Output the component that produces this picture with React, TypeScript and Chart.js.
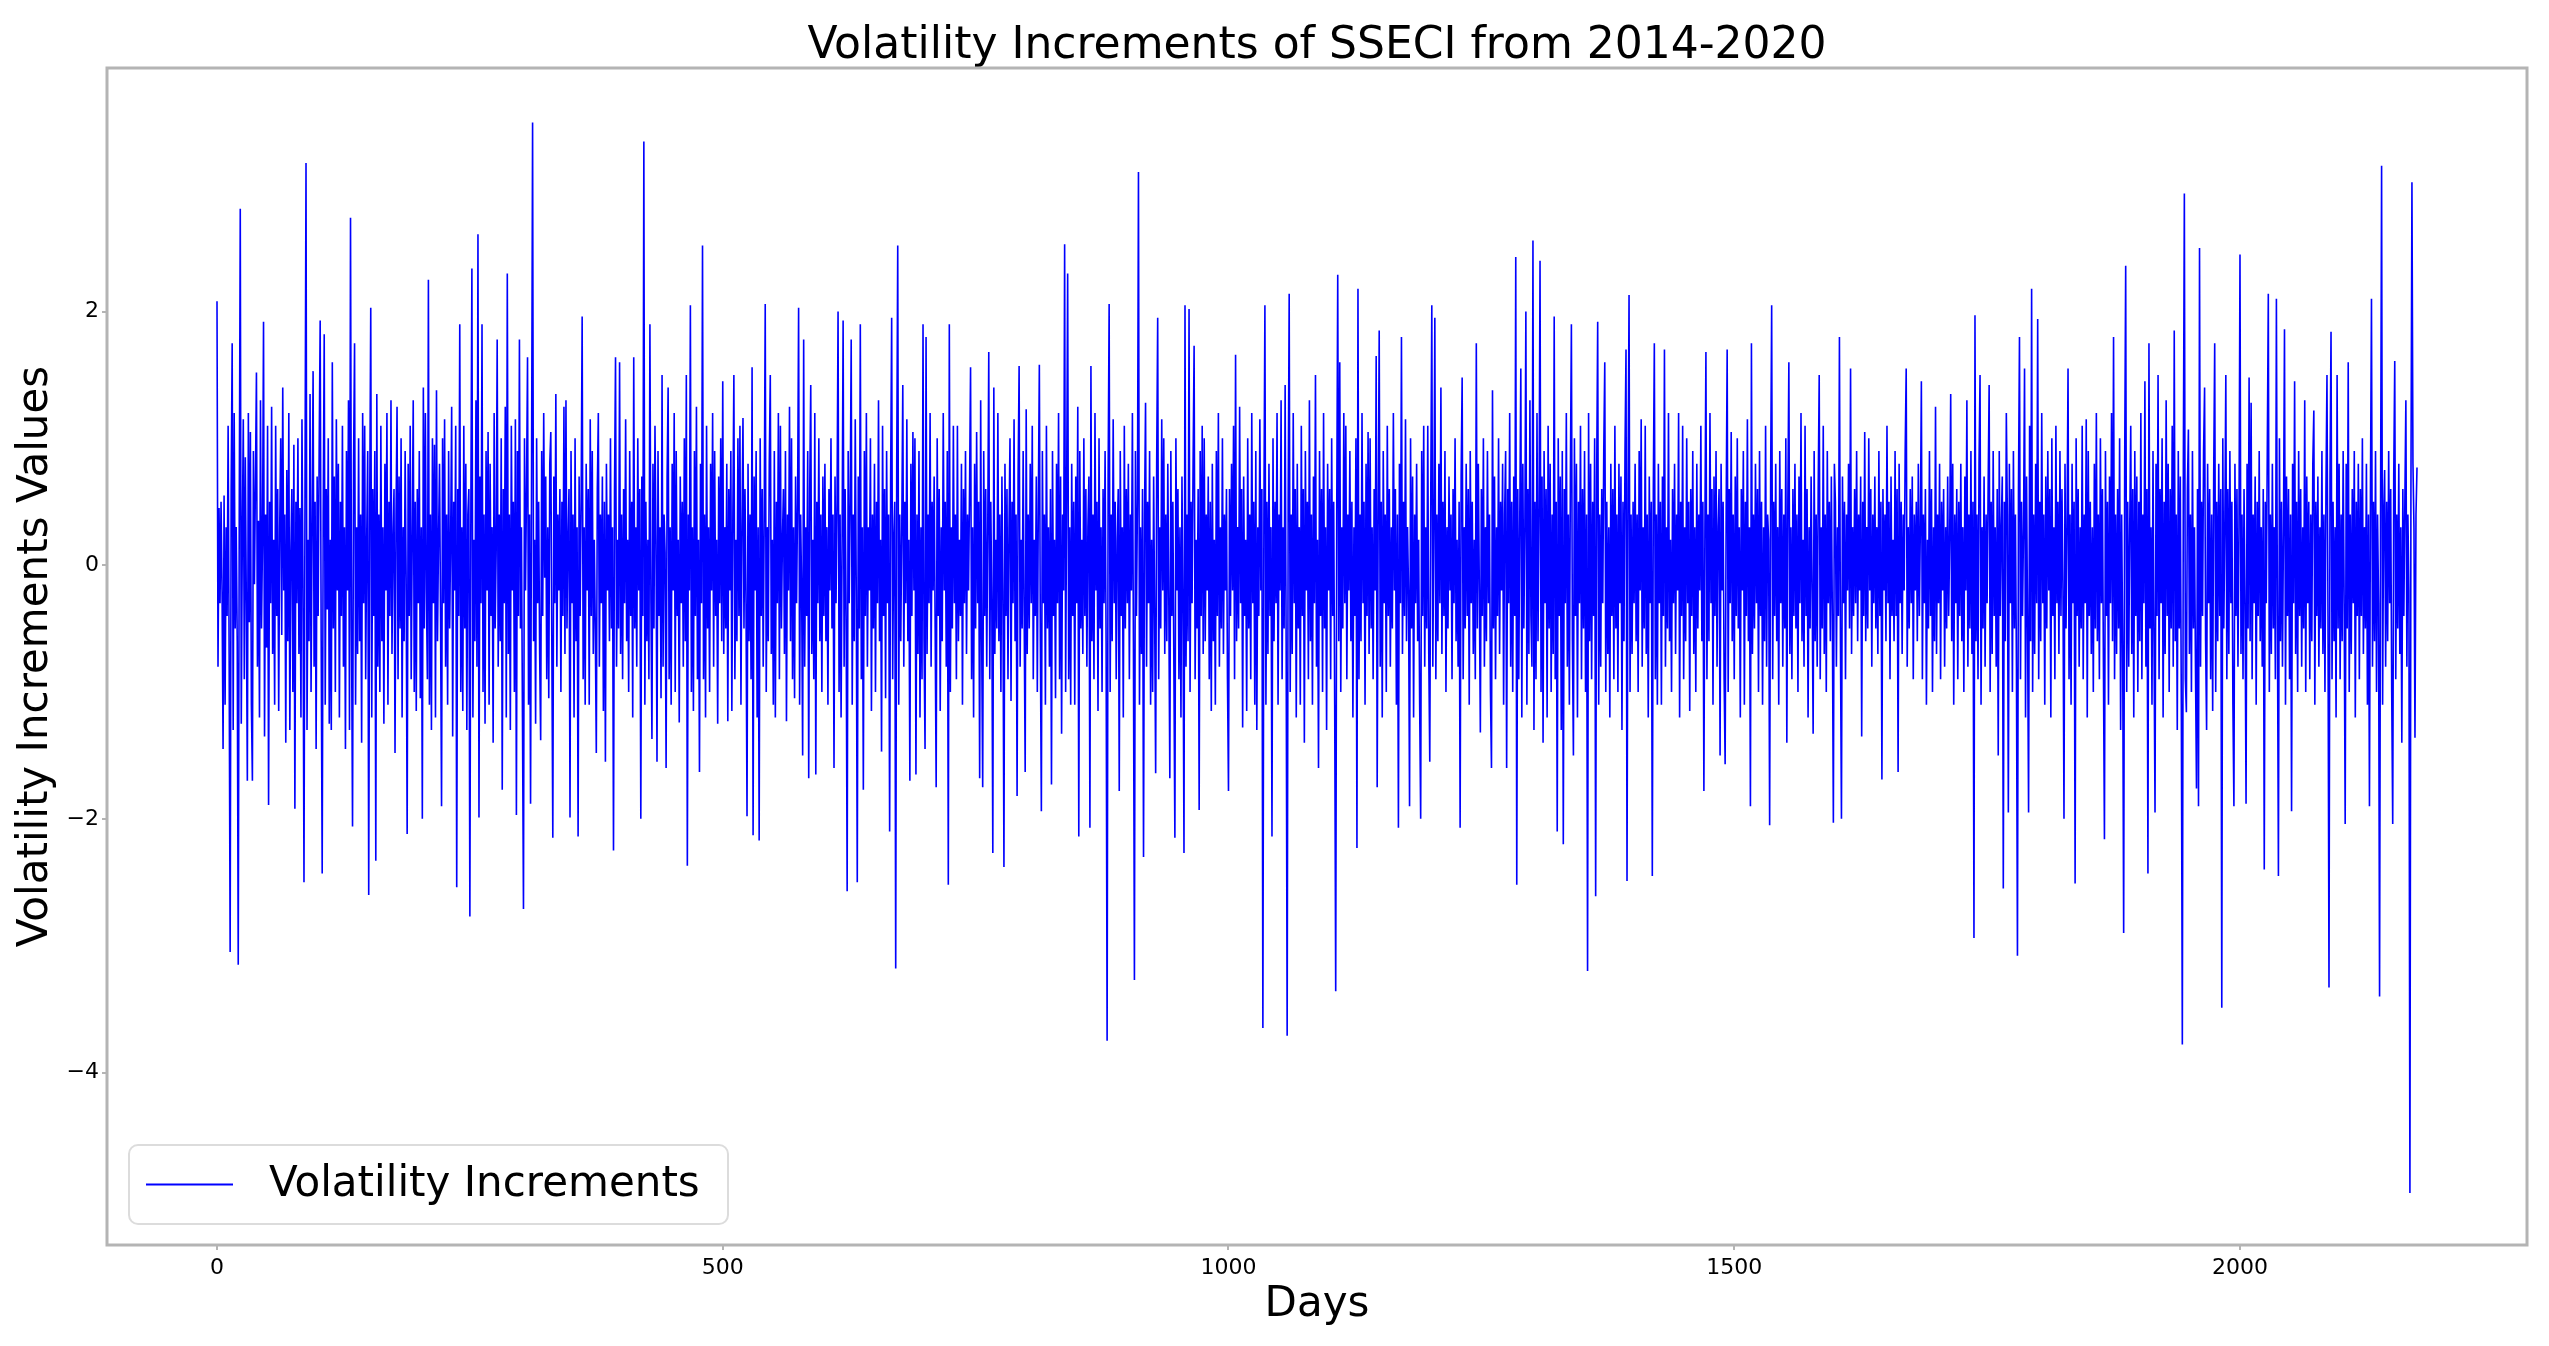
import React, { useEffect, useRef } from 'react';
import { Chart, registerables } from 'chart.js';

Chart.register(...registerables);

// Daily volatility increments (days 0-2175)
const d0000 = [
  2.08, -0.8, 0.45, -0.3, 0.5, -0.2, -1.45, 0.55, -1.1, 0.3, -0.4, 1.1, -0.7, -3.05, 0.6, 1.75, -1.3, 1.2, -0.5, 0.3,
  -0.6, -3.15, 0.4, 2.81, -1.25, 0.2, 1.15, -0.9, 0.85, -0.3, -1.7, 1.2, -0.45, 1.05, -1.1, -1.7, 0.9, -0.15, 0.65, 1.52,
  -0.8, 0.35, -1.2, 1.3, -0.5, 0.2, 1.92, -1.35, 0.4, -0.65, 1.1, -1.89, 0.5, -0.3, 1.25, -0.7, 0.2, -1.1, 1.1, -0.4,
  0.6, -1.15, 0.3, 1.0, -0.55, 1.4, -0.2, 0.4, -1.4, 0.75, -0.6, 1.2, -1.3, 0.1, 0.6, -1.0, 0.95, -1.92, 0.5, -0.3,
  1.0, -0.7, 0.45, -1.2, 1.15, -0.1, -2.5, 0.6, 3.17, -1.3, 0.2, -0.6, 1.35, -1.0, 0.3, 1.53, -0.8, 0.5, -1.45, 0.7,
  -0.4, 0.9, 1.93, -0.6, -2.43, 0.4, 1.82, -1.1, 0.6, -0.35, 1.0, -1.25, 0.2, -1.3, 1.6, -0.5, 0.7, -1.0, 1.15, -0.2,
  0.8, -1.2, 0.5, -0.4, 1.1, -0.8, 0.3, -1.45, 0.9, -0.2, 1.3, -1.3, 2.74, -0.5, -2.06, 0.8, 1.75, -1.1, 0.3, -0.7,
  1.0, -0.6, 0.4, -1.4, 1.2, -0.3, 1.1, -0.9, 0.2, 0.9, -2.6, 0.5, 2.03, -1.2, 0.6, -0.4, 0.9, -2.33, 1.35, -0.8,
  0.4, -1.0, 1.1, -0.6, 0.3, -1.25, 0.8, -0.2, 1.2, -1.1, 0.5, -0.4, 1.3, -0.7, 0.2, 0.6, -1.48, 0.4, 1.25, -0.9,
  0.7, -0.5, 1.0, -1.2, 0.3, -0.6, 0.9, -0.1, -2.12, 0.8, -0.4, 1.1, -0.9, 0.2, 1.3, -1.0, 0.5, -1.15, 0.6, -0.3,
];
const d0200 = [
  0.9, -1.05, 0.3, -2.0, 1.4, -0.5, 1.2, -0.2, -0.9, 2.25, -1.1, 0.4, -1.3, 1.0, -0.3, 0.95, -1.2, 1.38, -0.6, 0.2,
  0.8, -0.4, -1.9, 1.0, -0.3, 1.15, -0.8, 0.4, -1.1, 0.9, -0.5, 0.2, 1.25, -1.35, 0.5, -0.2, 1.1, -2.54, 0.6, -0.4,
  1.9, -1.0, 0.3, -1.15, 1.1, -0.5, 0.8, -1.3, 0.4, 0.6, -2.77, 0.5, 2.34, -1.2, 0.2, -0.6, 1.3, -0.8, 2.61, -1.99,
  0.7, -0.3, 1.9, -1.0, 0.4, -1.25, 0.9, -0.2, 1.05, -1.1, 0.8, -0.4, 0.3, -1.4, 1.2, -0.5, 0.1, 1.78, -0.8, 0.4,
  -0.6, 1.0, -1.77, 0.6, -0.3, 1.25, -1.2, 2.3, -0.7, 0.4, -1.3, 1.1, -0.2, 0.5, -1.0, 1.15, -1.97, 0.9, -0.4, 1.78,
  -0.5, 0.3, -1.2, -2.71, 1.0, -0.2, 0.6, 1.64, -1.1, 0.4, -1.88, 0.8, 3.49, -0.6, 0.2, -1.25, 1.0, -0.3, 0.5, -0.7,
  -1.38, 0.9, -0.4, 1.2, -0.1, 0.7, -0.9, 0.3, -1.05, 0.8, 1.05, -0.6, -2.15, 0.7, -0.3, 1.35, -0.8, 0.4, -0.2, 0.6,
  -1.0, 0.5, -0.4, 1.25, -0.7, 1.3, -0.5, 0.2, 0.6, -1.99, 0.9, -0.3, 0.4, -1.2, 1.0, -0.6, 0.3, -2.14, 0.7, -0.4,
  0.5, 1.96, -0.9, 0.3, -1.1, 0.8, -0.2, 0.6, -1.1, 1.15, -0.4, 0.9, -0.7, 0.2, -0.5, -1.48, 0.6, 1.2, -0.8, 0.4,
  -0.3, 0.7, -1.15, 0.5, -1.55, 0.8, -0.2, 0.4, -0.6, 1.0, -0.5, 0.3, -2.25, 0.6, 1.64, -0.8, 0.2, -0.5, 1.6, -0.7,
];
const d0400 = [
  0.4, -0.9, 0.6, -0.3, 1.15, -0.6, 0.2, -1.0, 0.9, -0.4, 0.5, -1.2, 1.64, -0.5, 0.3, -0.8, 1.0, -0.2, 0.6, -2.0,
  0.7, -0.4, 3.34, -1.1, 0.5, -0.6, 0.2, -0.9, 1.9, -0.3, -1.37, 0.8, -0.5, 1.1, 0.2, -1.55, 0.9, -0.4, 0.3, -1.05,
  1.5, -0.8, 0.4, 0.1, -1.6, 0.7, 1.4, -0.9, 0.3, -1.1, 0.8, -0.2, 1.2, -1.0, 0.9, -0.4, 0.2, -1.24, 0.7, -0.3,
  0.5, -0.8, 1.0, -0.6, 1.5, -2.37, 0.4, -0.2, 2.05, -1.0, 0.3, -1.15, 0.9, -0.4, 1.25, -0.9, 0.2, -1.63, 0.8, -0.3,
  2.52, -0.9, 0.4, -1.2, 1.1, -0.5, 0.3, -1.0, 0.8, -0.2, 1.2, -0.8, 0.9, -0.4, 0.2, -1.25, 0.7, -0.3, 1.0, -0.6,
  1.45, -0.7, 0.3, -0.5, 0.8, -1.23, 0.6, -0.2, 0.9, -1.15, 0.4, 1.5, -0.9, 0.2, -0.6, 1.0, -0.4, 1.1, -1.1, 0.3,
  1.16, -0.5, 0.6, -0.3, -1.98, 0.8, -0.6, 0.4, -0.9, 1.56, -2.13, 0.7, -0.2, 0.9, -1.2, 0.3, -2.17, 1.0, -0.4, 0.6,
  -0.8, 0.4, 2.06, -1.0, 0.3, -0.6, 0.8, 1.5, -0.7, 0.2, -1.1, 0.9, -1.2, 0.5, -0.3, 1.2, -0.9, 1.1, -0.5, 0.2,
  0.6, -0.7, 0.9, -1.23, 0.4, -0.2, 1.25, -0.6, 1.0, -0.9, 0.3, -1.05, 0.7, -0.3, 0.5, 2.03, -1.1, 0.4, -0.2, -1.5,
  1.78, -0.8, 0.3, -0.4, 0.9, -1.68, 0.6, 1.42, -0.7, 0.2, -0.9, 1.2, -1.65, 0.5, -0.3, 1.0, -0.6, 0.4, -1.0, 0.7,
];
const d0600 = [
  -0.4, 0.8, -0.6, 0.3, -1.1, 0.6, -0.2, 1.0, -0.5, 0.4, -1.6, 0.7, -0.3, 0.5, 2.0, -1.0, 0.4, -1.2, 0.2, 1.93,
  -0.8, 0.6, -0.4, -2.57, 0.9, -0.3, 0.5, 1.78, -1.1, 0.4, -0.6, 1.15, -0.2, -2.5, 0.7, -0.5, 1.9, -0.9, 0.3, -1.77,
  0.9, -0.4, 1.2, -0.8, 0.3, -0.2, 1.0, -1.15, 0.4, -0.5, 0.8, -1.0, 0.5, -0.3, 1.3, -0.6, 0.2, -1.47, 1.1, -0.4,
  0.6, -1.05, 0.9, -0.3, 0.4, -2.1, 0.7, 1.95, -0.9, 0.2, 0.5, -3.18, 0.8, 2.52, -1.1, 0.4, -0.6, 0.3, 1.42, -0.8,
  0.5, -0.3, 1.15, -0.6, 0.2, -1.7, 0.8, -0.4, 1.05, -0.2, 1.0, -1.65, 0.4, -0.7, 0.9, -1.2, 0.3, -0.9, 1.9, -0.6,
  -1.45, 1.8, -0.7, 0.4, -0.3, 1.2, -0.8, 0.5, -0.2, 0.7, -0.5, -1.75, 1.0, -0.4, 0.6, -1.15, 0.3, -0.6, 1.2, -0.2,
  0.5, -0.8, 0.9, -2.52, 1.9, -1.0, 0.3, -0.5, 1.1, -0.3, 0.4, -0.9, 1.1, -0.6, 0.2, -0.4, 0.8, -1.1, 0.6, -0.3,
  0.9, -0.7, 0.4, -0.2, 0.6, 1.56, -0.9, 0.3, -1.2, 0.8, -0.5, 1.05, -0.3, 0.5, -1.68, 1.3, -0.6, -1.75, 0.9, -0.4,
  0.6, -0.8, 0.3, 1.68, -0.9, 0.5, -0.3, -2.27, 1.4, -0.7, 0.2, -0.5, 1.2, -0.6, 0.4, -1.0, 0.7, -0.2, -2.38, 0.8,
  -0.4, 0.6, -0.9, 0.3, 1.0, -1.07, 0.5, -0.3, 1.15, -0.6, 0.4, -1.82, 0.7, 1.57, -0.8, 0.2, -0.5, 0.9, -0.4, -1.63,
];
const d0800 = [
  1.23, -0.7, 0.4, -0.5, 0.8, -0.3, 1.1, -0.9, 0.2, -0.4, 0.7, -1.0, 0.5, 1.58, -0.6, -1.94, 0.9, -0.3, 0.4, -1.1,
  1.1, -0.5, 0.3, -0.8, 0.6, -1.73, 0.9, -0.4, 0.2, -1.05, 0.8, -0.3, 1.2, -0.9, 0.7, -1.33, 0.4, -0.2, 2.53, -1.0,
  0.6, 2.3, -0.9, 0.3, -1.1, 0.8, -0.4, 0.5, -1.1, 0.7, -0.3, 1.25, -2.14, 0.9, -0.5, 0.2, -0.7, 1.0, -0.4, 0.6,
  -0.8, 0.3, 0.7, -2.07, 1.57, -0.6, 0.4, -0.9, 1.2, -0.2, 0.5, -1.15, 1.0, -0.5, 0.3, -1.0, 0.6, -0.3, 0.9, -0.6,
  -3.75, 0.7, 2.06, -1.0, 0.4, -0.6, 1.15, -0.3, 0.5, -0.9, 0.2, 0.6, -1.78, 0.9, -0.4, 0.3, -1.2, 1.1, -0.5, 0.6,
  -0.3, 0.8, -0.9, 0.4, -0.2, 1.2, -0.6, -3.27, 0.9, -0.4, 0.5, 3.1, -1.1, 0.3, -0.7, 0.6, -2.3, 0.4, 1.28, -0.8,
  0.5, -0.3, 0.9, -1.1, 0.2, -1.0, 0.7, -0.4, -1.64, 0.8, 1.95, -0.9, 0.3, -0.5, 1.15, -0.2, 1.0, -0.7, 0.4, -0.6,
  0.8, -0.3, -1.68, 0.9, -0.4, 0.5, -0.8, -2.15, 1.0, -0.2, 0.6, -0.9, 0.3, -1.2, 0.7, -0.3, -2.27, 2.05, -0.8, 0.4,
  -0.6, 2.02, -1.0, 0.5, -0.3, 0.8, 1.73, -0.9, 0.2, -0.5, 0.6, -1.93, 0.9, -0.4, 1.1, -0.7, 1.0, -0.6, 0.4, -0.2,
  0.7, -0.9, 0.5, -1.15, 0.8, -0.6, 0.2, -1.1, 0.9, -0.4, 1.2, -0.8, 0.3, -0.5, 1.0, -0.7, 0.4, -0.2, 0.6, -0.9,
];
const d1000 = [
  -1.78, 0.6, -0.4, 0.8, -0.2, 1.1, -0.9, 1.66, -0.6, 0.3, -0.5, 1.25, -0.3, 0.6, -1.28, 0.7, -0.4, 0.2, -1.15, 1.0,
  -0.5, 0.4, -0.9, 1.2, -0.3, 0.5, -1.1, 0.9, -1.3, 0.3, -0.4, 1.15, -0.2, 0.6, -3.65, 0.4, 2.05, -1.1, 0.5, -0.7,
  0.8, -0.4, 0.3, -2.14, 1.0, -0.6, 0.5, -0.3, 1.2, -1.1, 0.4, -0.2, 1.3, -0.9, 0.3, -0.5, 1.42, -0.6, -3.71, 0.5,
  2.14, -1.0, 0.4, -0.7, 1.2, -0.3, 0.6, -1.2, 0.8, -0.5, 0.3, -1.1, 1.1, -0.4, 0.6, -1.4, 0.9, -0.2, 0.5, -0.9,
  1.3, -0.6, 0.4, -1.1, 0.7, -0.3, 1.5, -0.8, 0.2, -1.6, 0.9, -0.4, 0.6, -1.0, 1.2, -0.5, 0.3, -1.3, 0.8, -0.2,
  0.6, -0.9, 1.0, -0.4, 0.5, -1.1, -3.36, 0.4, 2.29, -0.6, 1.6, -1.0, 0.3, -0.5, 1.2, -0.3, 1.1, -0.9, 0.4, -0.2,
  0.9, -0.6, 0.5, -1.2, 0.3, -0.4, 1.0, -2.23, 2.18, -0.9, 0.4, -0.6, 1.2, -0.3, 0.5, -1.1, 0.8, -0.4, 1.05, -0.7,
  1.0, -0.5, 0.3, -0.9, 0.6, -0.2, 1.65, -1.75, 0.4, 1.85, -0.8, 0.5, -1.2, 0.9, -0.3, 0.4, -1.0, 1.1, -0.4, 0.6,
  -0.8, 0.3, -0.5, 1.2, -0.2, 0.6, -1.1, 0.4, -2.07, 0.8, -0.3, 1.8, -0.7, 0.5, -0.4, 1.15, -0.6, 0.3, -0.2, -1.9,
  1.0, -0.5, 0.7, -1.2, 0.4, -0.3, 0.8, -0.6, 0.2, -1.1, -2.0, 0.9, -0.4, 1.1, -0.8, 0.3, -0.5, 1.1, -0.7, -1.55,
];
const d1200 = [
  0.6, 2.05, -0.8, 0.3, 1.95, -0.9, 0.4, -0.6, 0.8, -0.3, 1.4, -0.7, 0.5, -0.4, 0.9, -1.0, 0.3, -0.5, 0.7, -0.2,
  0.4, -0.9, 0.6, -0.3, 1.0, -0.6, 0.2, -0.8, 0.5, -2.07, 0.7, 1.48, -0.9, 0.3, -0.5, 0.8, -0.4, 0.6, -1.1, 0.9,
  -0.3, 0.5, -0.7, 0.2, -0.9, 1.75, -0.5, 0.8, -0.2, -1.32, 0.6, -0.4, 1.0, -0.8, 0.3, -0.6, 0.9, -0.3, 0.4, -1.0,
  -1.6, 1.38, -0.5, 0.7, -0.9, 0.3, -0.4, 1.0, -0.7, 0.5, -0.2, 0.8, -1.1, 0.4, 0.9, -1.6, 0.6, -0.3, 1.2, -0.8,
  0.5, -1.0, 0.7, -0.4, 2.43, -2.52, 0.6, -0.9, 0.4, 1.55, -1.2, 0.8, -0.5, 0.3, 2.0, -1.1, 0.6, -0.7, 1.3, -0.4,
  -0.8, 2.56, -1.3, 0.5, -0.9, 1.2, -0.6, 0.4, 2.4, -1.0, 0.7, -1.4, 0.9, -0.3, 0.6, -1.2, 1.1, -0.5, 0.8, -1.0,
  0.4, -0.7, 1.96, -0.9, 0.5, -2.1, 1.0, -0.4, 0.7, -1.3, 0.9, -2.2, 0.6, -0.3, 1.2, -0.8, 0.4, -1.1, 0.7, 1.9,
  -0.6, -1.5, 1.0, -0.4, 0.8, -1.2, 0.5, -0.3, 1.1, -0.9, 0.6, -0.5, 0.9, -1.0, 0.4, -3.2, 1.2, -0.6, 0.8, -0.9,
  0.5, -0.4, 1.0, -2.61, 0.7, 1.92, -1.1, 0.4, -0.8, 0.6, -0.3, 0.9, 1.6, -1.0, 0.5, -0.7, 0.3, -1.2, 0.8, -0.4,
  0.6, -0.9, 1.1, -0.5, 0.4, -1.0, 0.8, -0.3, 0.7, -1.3, 0.5, -0.6, 0.9, 1.7, -2.49, 0.6, 2.13, -1.0, 0.4, -0.7,
];
const d1400 = [
  0.5, -0.3, 0.8, -0.6, 0.4, -1.0, 0.9, -0.2, 1.15, -0.8, 0.3, -0.5, 1.1, -0.7, 0.4, -1.2, 0.7, -0.3, 0.5, -2.45,
  0.6, 1.75, -0.9, 0.4, -1.1, 0.8, -0.3, 0.5, -1.1, 0.7, -0.4, 1.7, -0.8, 0.3, -0.5, 1.2, -0.6, 0.2, -1.0, 0.6,
  -0.3, 0.8, -0.7, 0.4, -0.2, 1.2, -1.2, 0.5, -0.4, 1.1, -0.9, 0.3, -0.6, 1.0, -0.3, 0.5, -1.15, 0.6, -0.4, 0.9,
  -0.7, 0.3, -1.0, 0.8, -0.5, 0.4, -0.2, 1.1, -0.6, 0.5, -1.78, 0.3, 1.68, -0.9, 0.4, -0.6, 1.2, -0.3, 0.6, -1.1,
  0.7, -0.4, 0.9, -0.8, 0.3, 0.6, -1.5, 0.8, -0.2, 0.5, -0.9, -1.57, 0.4, 1.7, -1.0, 0.6, -0.3, 1.05, -0.6, 0.4,
  -0.9, 0.7, -0.4, 1.0, -0.5, 0.3, -1.2, 0.6, -0.2, 0.9, -1.1, 0.5, -0.4, 1.15, -0.6, 0.3, -1.9, 1.75, -0.7, 0.4,
  -0.5, 0.8, -0.3, 0.6, -1.0, 0.9, -0.4, 0.5, -1.1, 0.3, -0.6, 1.1, -0.8, 0.4, 0.2, -2.05, 0.7, 2.05, -0.9, 0.5,
  -0.4, 0.8, -0.6, 0.3, -1.1, 0.9, -0.3, 0.6, -0.8, 0.4, -0.5, 1.0, -1.4, 0.5, 1.6, -0.7, 0.3, -0.9, 0.6, -0.4,
  0.8, -0.5, 0.4, -1.0, 0.7, -0.3, 1.2, -0.6, 0.2, -0.8, 1.1, -0.4, 0.6, -1.2, 0.3, -0.5, 0.7, -0.2, -1.33, 0.9,
  -0.6, 0.4, -0.8, 0.6, 1.5, -0.9, 0.3, -0.5, 1.1, -0.7, 0.4, -1.0, 0.9, -0.3, 0.5, -0.6, 0.7, -0.4, -2.03, 0.8,
];
const d1600 = [
  0.5, -0.8, 0.3, -0.4, 1.8, -0.6, -2.0, 0.7, -0.3, 0.5, -0.9, 0.4, -0.2, 0.8, -0.5, 1.55, -0.7, 0.3, -0.4, 0.6,
  -0.3, 0.9, -0.6, 0.4, -0.2, 0.7, -1.35, 0.5, -0.4, 1.05, -0.6, 0.3, -0.5, 1.0, -0.2, 0.6, -0.8, 0.4, -0.3, 0.7,
  -0.5, 0.3, -0.7, 0.9, -0.4, 0.5, -1.69, 0.6, -0.2, 0.4, -0.6, 1.1, -0.3, 0.5, -0.9, 0.7, -0.4, 0.2, -0.6, 0.9,
  -0.4, 0.6, -1.63, 0.8, -0.3, 0.5, -0.7, 0.4, -0.2, 0.9, 1.55, -0.8, 0.3, -0.5, 0.6, -0.3, 0.7, -0.9, 0.4, -0.2,
  0.5, -0.6, 0.8, -0.4, 0.3, 1.45, -0.9, 0.4, -0.3, 0.6, -1.1, 0.2, -0.5, 0.9, -0.4, 0.6, -1.0, 0.3, -0.6, 1.25,
  -0.7, 0.4, -0.3, 0.8, -0.9, 0.5, -0.2, 0.6, -0.8, 0.3, -0.5, 0.7, -0.4, 0.2, 1.35, -0.6, 0.8, -1.1, 0.4, -0.3,
  0.6, -0.9, 0.5, -0.4, 0.8, -0.6, 0.3, -1.0, 0.7, -0.2, 1.3, -0.8, 0.4, -0.5, 0.9, -0.7, 0.5, -2.94, 1.97, -0.6,
  0.4, -0.9, 0.8, 1.5, -1.1, 0.3, -0.5, 0.7, -0.8, 0.4, -0.3, 0.6, 1.42, -1.0, 0.5, -0.7, 0.9, -0.4, 0.3, -0.8,
  0.6, -1.5, 0.9, -0.4, 0.3, 0.7, -2.55, 0.5, -0.6, 1.2, 0.4, -1.95, 0.8, -0.3, 0.6, -1.0, 0.9, -0.5, 0.4, -0.8,
  -3.08, 0.6, 1.8, -0.9, 0.5, -0.4, 0.3, 1.55, -1.2, 0.7, -0.5, -1.95, 1.1, -0.6, 2.18, -1.0, 0.4, -0.7, 0.8, -0.3,
];
const d1800 = [
  1.94, -0.9, 0.5, -0.6, 1.2, -0.3, 0.4, -1.1, 0.7, -0.5, 0.9, -0.2, 0.6, -1.2, 1.0, -0.4, 0.3, -0.9, 1.1, -0.3,
  0.5, -0.7, 0.9, -0.4, 0.6, -0.2, -2.0, 0.8, -0.5, 0.3, 1.55, -0.9, 0.4, -1.1, 0.8, -0.3, 0.5, -2.51, 1.0, -0.4,
  0.6, -0.8, 0.3, -0.5, 1.1, -0.9, 0.4, -0.3, 1.15, -1.2, 0.9, -0.4, 0.5, -0.7, 0.3, -1.0, 0.8, -0.5, 1.2, -0.6,
  0.4, -0.9, 1.0, -0.3, 0.6, -0.8, -2.16, 0.9, -0.4, 0.5, -1.1, 0.7, -0.3, 1.2, -0.6, 1.8, -0.9, 0.4, -0.7, 0.6,
  -0.5, 1.0, -1.3, 0.4, -0.6, -2.9, 0.8, 2.36, -1.0, 0.5, -0.8, 0.3, 1.1, -0.7, 0.6, -1.2, 0.9, -0.4, 0.7, -1.0,
  0.5, -0.6, 1.2, -0.9, 0.4, -0.3, 1.45, -0.8, 0.6, -2.43, 1.75, -0.5, 0.3, -1.1, 0.9, -0.6, -1.95, 0.8, -0.4, 1.5,
  -0.9, 0.6, -0.3, 1.0, -1.2, 0.5, -0.7, 1.3, -0.4, 0.8, -1.0, 0.6, -0.5, 1.1, -0.8, 1.85, -0.6, 0.4, -1.3, 0.9,
  -0.5, 0.7, -1.1, -3.78, 0.8, 2.93, -0.9, -1.16, 0.6, 1.07, -0.7, 0.4, -1.0, 0.9, -0.5, 0.3, -0.8, -1.76, 0.6, -1.9,
  2.5, -0.8, 0.5, -0.4, 0.9, 1.4, -0.6, -1.3, 0.8, -0.3, 0.6, -0.9, 0.4, -1.15, 0.7, 1.75, -1.0, 0.5, -0.6, 0.8,
  -0.4, 0.6, -3.49, 1.0, -0.5, 0.3, 1.5, -0.9, 0.6, -0.7, 0.9, -0.3, 0.5, -1.1, -1.9, 0.8, -0.4, 0.6, -0.8, 0.3,
];
const d2000 = [
  2.45, -0.7, 0.4, -0.9, 0.6, -0.3, -1.88, 0.8, -0.5, 1.48, -0.6, 1.28, -0.9, 0.4, -0.3, 0.7, -1.1, 0.5, -0.4, 0.9,
  -0.6, 0.3, -0.8, 0.6, -2.4, 0.5, -0.3, 0.9, 2.14, -1.0, 0.4, -0.7, 0.8, -0.5, 0.3, -0.9, 2.1, -0.4, -2.45, 1.0,
  -0.6, 0.5, -0.8, 0.3, 1.86, -1.1, 0.7, -0.4, 0.6, -0.9, 0.4, -1.94, 0.8, -0.3, 1.45, -0.7, 0.5, -1.0, 0.9, -0.4,
  0.6, -0.8, 0.3, -0.5, 1.3, -1.0, 0.7, -0.3, 0.5, -0.9, 0.4, -0.6, 0.8, 1.22, -1.1, 0.5, -0.4, 0.7, -0.8, 0.3,
  -0.5, 0.9, -0.7, 0.4, -1.0, 0.6, 1.5, -0.4, -3.33, 0.7, 1.84, -0.9, 0.5, -0.6, 0.3, -1.2, 1.5, -0.5, 0.8, -0.9,
  0.4, -0.6, 0.9, -0.3, -2.04, 0.8, -0.5, 1.6, -1.0, 0.4, -0.7, 0.6, -0.3, 0.9, -1.2, 0.5, -0.4, 0.8, -0.9, 0.6,
  -0.4, 1.0, -0.7, 0.3, -0.5, 0.8, -1.1, 0.4, -1.9, 0.6, 2.1, -0.8, 0.5, -0.6, 0.9, -1.0, 0.4, -0.3, -3.4, 0.5,
  3.15, -1.1, 0.4, 0.75, -0.8, 0.5, -0.6, 0.9, -0.3, 0.6, -1.0, -2.04, 0.7, 1.61, -0.9, 0.4, -0.5, 0.8, -0.7, 0.3,
  -1.4, 0.6, -0.4, 0.5, 1.3, -0.8, 0.4, -0.2, -4.95, 0.6, 3.02, 0.8, 0.3, -1.36, 0.4, 0.77,
];

const seriesValues = [
  ...d0000, ...d0200, ...d0400, ...d0600, ...d0800,
  ...d1000, ...d1200, ...d1400, ...d1600, ...d1800, ...d2000,
];

const xTickValues = [0, 500, 1000, 1500, 2000];
const yTickValues = [-4, -2, 0, 2];

const chartTitle = 'Volatility Increments of SSECI from 2014-2020';
const xAxisLabel = 'Days';
const yAxisLabel = 'Volatility Increments Values';
const seriesLabel = 'Volatility Increments';

const FONT = "'DejaVu Sans', 'Liberation Sans', sans-serif";
const LINE_BLUE = '#0000ff';
const SPINE = '#b4b4b4';

const fmtTick = (v: number) => (v < 0 ? '\u2212' + Math.abs(v) : String(v));

const frameLegendPlugin = {
  id: 'frameLegend',
  afterDatasetsDraw(chart: any) {
    const { ctx, chartArea: a } = chart;
    ctx.save();
    // axes frame (all four spines)
    ctx.strokeStyle = SPINE;
    ctx.lineWidth = 3;
    ctx.strokeRect(a.left, a.top, a.right - a.left, a.bottom - a.top);

    // legend box at lower left inside the axes
    const bx = a.left + 22;
    const by = a.bottom - 100;
    const bw = 599;
    const bh = 79;
    ctx.beginPath();
    if (ctx.roundRect) ctx.roundRect(bx, by, bw, bh, 9);
    else ctx.rect(bx, by, bw, bh);
    ctx.fillStyle = 'rgba(255,255,255,0.8)';
    ctx.fill();
    ctx.strokeStyle = '#dcdcdc';
    ctx.lineWidth = 2;
    ctx.stroke();

    const ly = by + bh / 2;
    ctx.beginPath();
    ctx.moveTo(bx + 17, ly);
    ctx.lineTo(bx + 104, ly);
    ctx.strokeStyle = LINE_BLUE;
    ctx.lineWidth = 2;
    ctx.stroke();

    ctx.fillStyle = '#000';
    ctx.font = `42px ${FONT}`;
    ctx.textBaseline = 'middle';
    ctx.textAlign = 'left';
    ctx.fillText(chart.data.datasets[0].label, bx + 140, ly + 1);
    ctx.restore();
  },
};

export default function App() {
  const canvasRef = useRef<HTMLCanvasElement | null>(null);

  useEffect(() => {
    if (!canvasRef.current) return;
    const chart = new Chart(canvasRef.current, {
      type: 'line',
      data: {
        datasets: [
          {
            label: seriesLabel,
            data: seriesValues.map((y, i) => ({ x: i, y })),
            borderColor: LINE_BLUE,
            borderWidth: 1.6,
            pointRadius: 0,
            pointHoverRadius: 0,
            tension: 0,
            fill: false,
          },
        ],
      },
      options: {
        animation: false,
        responsive: true,
        maintainAspectRatio: false,
        devicePixelRatio: 1,
        events: [],
        layout: { padding: { left: 0, right: 22, top: 0, bottom: 0 } },
        plugins: {
          legend: { display: false },
          tooltip: { enabled: false },
          title: {
            display: true,
            text: chartTitle,
            fullSize: false,
            color: '#000',
            font: { family: FONT, size: 44, weight: 'normal', lineHeight: 1 },
            padding: { top: 25, bottom: -1 },
          },
        },
        scales: {
          x: {
            type: 'linear',
            min: -108.75,
            max: 2283.75,
            afterBuildTicks: (scale: any) => {
              scale.ticks = xTickValues.map((v) => ({ value: v }));
            },
            afterFit: (scale: any) => {
              scale.height = 101;
            },
            ticks: {
              autoSkip: false,
              maxRotation: 0,
              minRotation: 0,
              padding: 5,
              color: '#000',
              font: { family: FONT, size: 22 },
              callback: (v: any) => fmtTick(Number(v)),
            },
            grid: {
              display: true,
              drawOnChartArea: false,
              drawTicks: true,
              tickLength: 5,
              color: SPINE,
              lineWidth: 2,
            },
            border: { display: false },
            title: {
              display: true,
              text: xAxisLabel,
              color: '#000',
              font: { family: FONT, size: 42, weight: 'normal', lineHeight: 1.2 },
              padding: { top: 0, bottom: 16 },
            },
          },
          y: {
            type: 'linear',
            min: -5.36,
            max: 3.92,
            afterBuildTicks: (scale: any) => {
              scale.ticks = yTickValues.map((v) => ({ value: v }));
            },
            afterFit: (scale: any) => {
              scale.width = 107;
            },
            ticks: {
              autoSkip: false,
              padding: 3,
              color: '#000',
              font: { family: FONT, size: 22 },
              callback: (v: any) => fmtTick(Number(v)),
            },
            grid: {
              display: true,
              drawOnChartArea: false,
              drawTicks: true,
              tickLength: 5,
              color: SPINE,
              lineWidth: 2,
            },
            border: { display: false },
            title: {
              display: true,
              text: yAxisLabel,
              color: '#000',
              font: { family: FONT, size: 42, weight: 'normal', lineHeight: 1.2 },
              padding: { top: 11, bottom: 0 },
            },
          },
        },
      },
      plugins: [frameLegendPlugin],
    } as any);
    return () => chart.destroy();
  }, []);

  return (
    <div
      style={{
        position: 'absolute',
        left: 0,
        top: 0,
        width: 2549,
        height: 1346,
        background: '#ffffff',
      }}
    >
      <canvas ref={canvasRef} />
    </div>
  );
}
